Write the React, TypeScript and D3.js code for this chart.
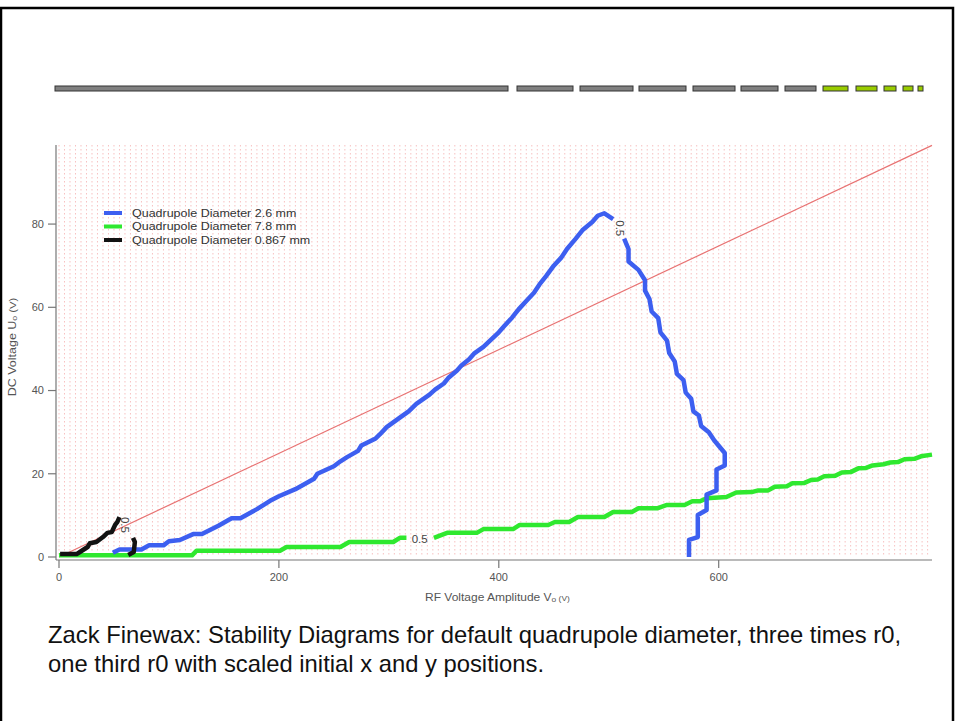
import React from "react";
import * as d3 from "d3";

// Stability boundary (contour level 0.5) for each quadrupole diameter: [RF amplitude V, DC voltage U]
const blueLeft: [number, number][] = [
  [49, 1.0], [55, 1.8], [75, 1.8], [82, 2.8], [95, 2.8], [100, 3.8], [110, 4.1], [122, 5.5],
  [130, 5.5], [145, 7.5], [157, 9.3], [165, 9.3], [180, 11.5], [192, 13.5], [200, 14.6],
  [215, 16.3], [232, 18.8], [235, 20.0], [250, 21.8], [256, 23.0], [262, 24.0], [272, 25.5],
  [275, 26.8], [288, 28.5], [292, 29.5], [298, 31.2], [310, 33.5], [318, 35.0], [325, 36.8],
  [337, 39.0], [342, 40.2], [350, 41.7], [354, 43.0], [362, 44.8], [366, 46.0], [373, 47.5],
  [378, 49.0], [386, 50.5], [392, 52.0], [400, 54.0], [405, 55.5], [412, 57.5], [418, 59.5],
  [425, 61.5], [432, 63.5], [437, 65.5], [443, 67.5], [450, 70.0], [457, 72.0], [462, 74.0],
  [470, 76.5], [476, 78.5], [485, 80.5], [490, 82.0], [496, 82.6], [504, 81.2],
];
const blueRight: [number, number][] = [
  [514, 76.5], [518, 74], [518, 71], [527, 69], [533, 66.5], [533, 64], [537, 62], [539, 59],
  [545, 57.4], [547, 54], [553, 52], [555, 49], [560, 47], [562, 44], [568, 42.5], [570, 39.5],
  [575, 38], [577, 35], [582, 34], [584, 31.5], [591, 30], [596, 28], [605.5, 25], [605.5, 22],
  [598, 21], [598, 16], [589, 15], [589, 11.3], [581, 10.1], [581, 4.8], [573, 4.1], [573, 0],
];
const greenLeft: [number, number][] = [
  [0, 0.4], [121, 0.4], [125, 1.5], [201, 1.5], [207, 2.4], [256, 2.4], [264, 3.6], [304, 3.6],
  [310, 4.6], [316, 4.6],
];
const greenRight: [number, number][] = [
  [341, 4.6], [353, 5.8], [380, 5.8], [386, 6.7], [413, 6.7], [419, 7.7], [445, 7.7], [451, 8.4],
  [464, 8.4], [472, 9.6], [496, 9.6], [504, 10.8], [521, 10.8], [527, 11.7], [544, 11.7],
  [553, 12.5], [569, 12.5], [576, 13.4], [583, 13.4], [589, 14.1], [607, 14.4], [616, 15.5],
  [630, 15.6], [636, 16.0], [645, 16.0], [651, 16.9], [662, 17.0], [667, 17.7], [678, 17.8],
  [684, 18.5], [690, 18.6], [696, 19.4], [706, 19.5], [712, 20.3], [720, 20.4], [727, 21.3],
  [734, 21.4], [740, 22.0], [750, 22.3], [756, 22.7], [763, 22.8], [769, 23.5], [778, 23.6],
  [784, 24.2], [794, 24.6],
];
const blackLeft: [number, number][] = [
  [1, 0.7], [16, 0.7], [19, 1.2], [26, 2.4], [28, 3.3], [34, 3.6], [40, 4.8], [44, 5.8],
  [48, 6.0], [51, 7.7], [53, 8.4], [55, 9.6],
];
const blackRight: [number, number][] = [
  [67.3, 4.6], [69, 3.6], [68, 1.2], [63, 0.5],
];
// Operating (scan) line U = a·V
const scanLine: [number, number][] = [[0, 0], [794, 98.9]];

// Contour labels: [V, U, text]
const contourLabels: [number, number, string][] = [
  [510, 79, "0.5"],
  [60, 7.7, "0.5"],
];
const greenLabel: [number, number, string] = [328, 4.4, "0.5"];

const xTicks = [0, 200, 400, 600];
const yTicks = [0, 20, 40, 60, 80];
const legendNames = [
  "Quadrupole Diameter 2.6 mm",
  "Quadrupole Diameter 7.8 mm",
  "Quadrupole Diameter 0.867 mm",
];
const seriesColors = ["#3d5ff0", "#2fe82f", "#121212"];

const captionLines = [
  "Zack Finewax: Stability Diagrams for default quadrupole diameter, three times r0,",
  "one third r0 with scaled initial x and y positions.",
];

// Slide header rule made of segments: [x0, x1, isAccent]
const headerSegments: [number, number, boolean][] = [
  [55, 508, false], [517, 573, false], [580, 633, false], [639, 686, false],
  [693, 735, false], [741, 778, false], [785, 816, false], [823, 848, true],
  [856, 877, true], [884, 896, true], [903, 913, true], [918, 923, true],
];

const FONT = "'Liberation Sans', Arial, Helvetica, sans-serif";

export default function App() {
  const x = d3.scaleLinear().domain([0, 794]).range([59, 932]);
  const y = d3.scaleLinear().domain([0, 99]).range([557, 145]);
  const line = d3
    .line<[number, number]>()
    .x((d) => x(d[0]))
    .y((d) => y(d[1]));

  const gridVals = d3.range(0, 795, 5);

  return (
    <svg
      width={956}
      height={721}
      style={{ position: "absolute", left: 0, top: 0, background: "#fff" }}
      fontFamily={FONT}
    >
      <rect x={0} y={0} width={956} height={721} fill="#fff" />
      {/* slide frame */}
      <rect x={1} y={8} width={952} height={730} fill="none" stroke="#000" strokeWidth={2.5} />

      {/* header rule */}
      {headerSegments.map(([a, b, accent], i) => (
        <rect
          key={i}
          x={a}
          y={86}
          width={b - a}
          height={5}
          fill={accent ? "#99cc00" : "#808080"}
          stroke="#333"
          strokeWidth={1}
        />
      ))}

      {/* grid */}
      <g>
        {gridVals.map((v) => (
          <line
            key={v}
            x1={x(v)}
            x2={x(v)}
            y1={y(99)}
            y2={y(0)}
            stroke="#f39a9a"
            strokeWidth={1}
            strokeDasharray="1.5,2.5"
            opacity={0.6}
          />
        ))}
      </g>

      {/* axes */}
      <line x1={56} x2={56} y1={145} y2={560} stroke="#777" strokeWidth={1.2} />
      <line x1={56} x2={932} y1={560} y2={560} stroke="#777" strokeWidth={1.2} />
      {yTicks.map((t) => (
        <g key={t}>
          <line x1={48} x2={56} y1={y(t)} y2={y(t)} stroke="#777" strokeWidth={1.2} />
          <text x={44} y={y(t)} dy="0.35em" textAnchor="end" fontSize={11} fill="#555">
            {t}
          </text>
        </g>
      ))}
      {xTicks.map((t) => (
        <g key={t}>
          <line x1={x(t)} x2={x(t)} y1={560} y2={568} stroke="#777" strokeWidth={1.2} />
          <text x={x(t)} y={581} textAnchor="middle" fontSize={11} fill="#555">
            {t}
          </text>
        </g>
      ))}
      <text transform="translate(425,601) scale(1.2,1)" fontSize={10} fill="#555">
        RF Voltage Amplitude V
        <tspan fontSize={7} dy={1}>o</tspan>
        <tspan fontSize={7} dy={-1}> (V)</tspan>
      </text>
      <text transform="translate(16,347) rotate(-90) scale(1.25,1)" textAnchor="middle" fontSize={10} fill="#555">
        DC Voltage U
        <tspan fontSize={7} dy={1}>o</tspan>
        <tspan fontSize={9} dy={-1}> (V)</tspan>
      </text>

      {/* scan line */}
      <path d={line(scanLine) || ""} fill="none" stroke="#e87272" strokeWidth={1.2} />

      {/* stability boundaries */}
      {[greenLeft, greenRight].map((d, i) => (
        <path key={"g" + i} d={line(d) || ""} fill="none" stroke={seriesColors[1]} strokeWidth={4.5} strokeLinejoin="round" />
      ))}
      {[blueLeft, blueRight].map((d, i) => (
        <path key={"b" + i} d={line(d) || ""} fill="none" stroke={seriesColors[0]} strokeWidth={4.5} strokeLinejoin="round" />
      ))}
      {[blackLeft, blackRight].map((d, i) => (
        <path key={"k" + i} d={line(d) || ""} fill="none" stroke={seriesColors[2]} strokeWidth={4.5} strokeLinejoin="round" />
      ))}

      {contourLabels.map(([v, u, s], i) => (
        <text
          key={i}
          transform={`translate(${x(v)},${y(u)}) rotate(90)`}
          textAnchor="middle"
          dy="0.35em"
          fontSize={11.5}
          fill="#444"
        >
          {s}
        </text>
      ))}
      <text x={x(greenLabel[0])} y={y(greenLabel[1])} dy="0.35em" textAnchor="middle" fontSize={11.5} fill="#444">
        {greenLabel[2]}
      </text>

      {/* legend */}
      {legendNames.map((name, i) => (
        <g key={name} transform={`translate(0,${213 + i * 13.5})`}>
          <line x1={104} x2={122} y1={0} y2={0} stroke={seriesColors[i]} strokeWidth={4} />
          <text transform="translate(132,0) scale(1.25,1)" dy="0.35em" fontSize={10} fill="#333">
            {name}
          </text>
        </g>
      ))}

      {/* caption */}
      {captionLines.map((l, i) => (
        <text key={i} x={48} y={643} fontSize={23.8} fill="#111" dy={i * 29}>
          {l}
        </text>
      ))}
    </svg>
  );
}
